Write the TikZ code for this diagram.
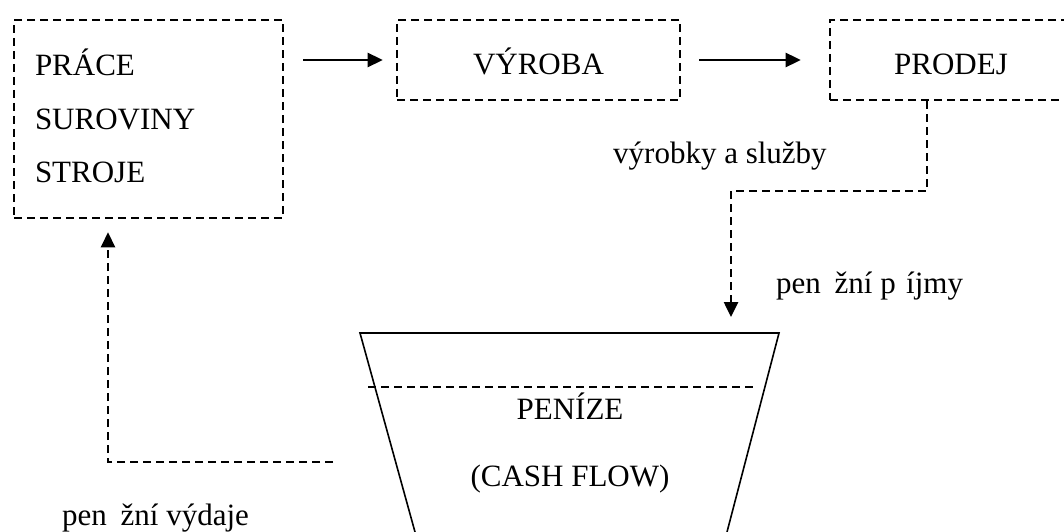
\documentclass[tikz,border=0pt]{standalone}
\usepackage{fontspec}
\setmainfont{Liberation Serif}
\usetikzlibrary{arrows.meta}
\tikzset{
  dashline/.style={line width=2.6pt, dash pattern=on 8pt off 5pt},
  boxstyle/.style={draw, dashline, inner sep=0pt, font=\fontsize{31}{53.5}\selectfont},
  onebox/.style={boxstyle, text height=36pt, text depth=6pt},
  arr/.style={line width=2.6pt, -{Triangle[length=15pt,width=14pt]}},
  darr/.style={dashline, -{Triangle[length=15pt,width=14pt]}},
  lbl/.style={inner sep=0pt, font=\fontsize{31}{37}\selectfont},
  funnel/.style={line width=1.6pt},
  level/.style={line width=1.8pt, dash pattern=on 8pt off 5pt}
}
\begin{document}
\begin{tikzpicture}[x=1pt,y=-1pt]
\useasboundingbox (0,0) rectangle (1064,532);
\clip (0,0) rectangle (1064,532);
\fill[white] (0,0) rectangle (1064,532);
% boxes
\node[boxstyle, minimum width=269pt, minimum height=198pt, text width=227pt, inner xsep=21pt, align=left] (box1) at (148.5,119) {PRÁCE\\SUROVINY\\STROJE\vspace{6pt}};
\node[onebox, minimum width=283pt, minimum height=80pt] (box2) at (538.5,60) {VÝROBA};
\node[onebox, minimum width=242pt, minimum height=80pt] (box3) at (951,60) {PRODEJ};
% top arrows
\draw[arr, shorten <=19pt, shorten >=13pt] (box1.east |- box2.west) -- (box2.west);
\draw[arr, shorten <=18pt, shorten >=28pt] (box2.east) -- (box3.west);
% funnel
\coordinate (fbl) at (415,532);
\coordinate (ftl) at (360,333);
\coordinate (ftr) at (779,333);
\coordinate (fbr) at (727,532);
\draw[funnel] (fbl) -- (ftl) -- (ftr) -- (fbr);
\coordinate (lvl) at (368,387);
\coordinate (lvr) at (755,387);
\draw[level] (lvl) -- (lvr);
\node[lbl, anchor=base] (peni) at (570,419) {PENÍZE};
\node[lbl, anchor=base] (cash) at (570,486) {(CASH FLOW)};
% income connector
\coordinate (c1) at (927,191);
\coordinate (c2) at (731,191);
\coordinate (tip1) at (731,317);
\draw[darr] (box3.south -| c1) -- (c1) -- (c2) -- (tip1);
\node[lbl, anchor=base west] (vyr) at (613,163) {výrobky a služby};
\node[lbl, anchor=base west] (prij) at (776,293) {pen\phantom{ě}žní p\phantom{ř}íjmy};
% expense connector
\coordinate (r0) at (333,462);
\coordinate (r1) at (108,462);
\draw[darr, shorten >=13pt] (r0) -- (r1) -- (box1.south -| r1);
\node[lbl, anchor=base west] (vyd) at (62,525) {pen\phantom{ě}žní výdaje};
\end{tikzpicture}
\end{document}
